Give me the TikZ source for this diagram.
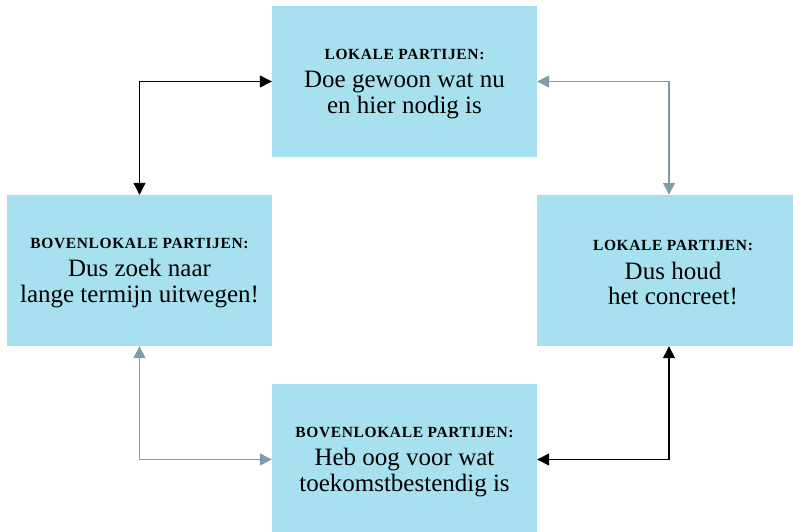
\documentclass[tikz,border=0pt]{standalone}
\usepackage{fontspec}
\setmainfont{Liberation Serif}
\usetikzlibrary{arrows.meta}
\definecolor{boxc}{HTML}{A7E1EF}
\definecolor{grayarrow}{HTML}{7A9FAA}
\newcommand\hdtext[1]{{\fontsize{15.5}{17}\selectfont\bfseries\addfontfeatures{LetterSpace=4}#1}}
\begin{document}
\begin{tikzpicture}[x=1pt,y=-1pt,
  panel/.style={fill=boxc, draw=none, minimum height=151pt, inner sep=0pt},
  paneltext/.style={inner sep=0pt, align=center, font=\fontsize{25}{25.5}\selectfont, yshift=-2.5pt},
  conn/.style={line width=1.3pt, {Triangle[length=12pt,width=12pt]}-{Triangle[length=12pt,width=12pt]}},
  blackconn/.style={conn, draw=black},
  grayconn/.style={conn, draw=grayarrow}]
\useasboundingbox (0,0) rectangle (793,532);
\node[panel, minimum width=265pt] (T) at (404.5,81.5) {};
\node[panel, minimum width=265pt] (L) at (139.5,270.5) {};
\node[panel, minimum width=272pt] (R) at (673,270.5) {};
\node[panel, minimum width=265pt] (B) at (404.5,459.5) {};
\node[paneltext] (Tt) at (T.center)
  {\hdtext{LOKALE PARTIJEN:}\\[3pt] Doe gewoon wat nu\\ en hier nodig is};
\node[paneltext] (Lt) at (L.center)
  {\hdtext{BOVENLOKALE PARTIJEN:}\\[3pt] Dus zoek naar\\ lange termijn uitwegen!};
\node[paneltext] (Rt) at (R.center)
  {\hdtext{LOKALE PARTIJEN:}\\[3pt] Dus houd\\ het concreet!};
\node[paneltext] (Bt) at (B.center)
  {\hdtext{BOVENLOKALE PARTIJEN:}\\[3pt] Heb oog voor wat\\ toekomstbestendig is};
\coordinate (rx) at (669,0);
\draw[blackconn] (L.north) |- (T.west);
\draw[grayconn] (T.east) -| (R.north -| rx);
\draw[blackconn] (R.south -| rx) |- (B.east);
\draw[grayconn] (L.south) |- (B.west);
\end{tikzpicture}
\end{document}
